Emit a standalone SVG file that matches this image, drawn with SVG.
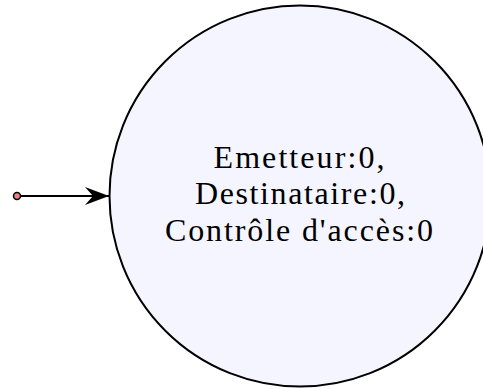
<svg xmlns="http://www.w3.org/2000/svg" width="483" height="389" viewBox="0 0 483 389">
<style>
.state{fill:#f5f5ff;stroke:#000;stroke-width:2}
.lbl{font-family:"Liberation Serif","DejaVu Serif",serif;font-size:32px;fill:#000;text-anchor:middle}
.edge{stroke:#000;stroke-width:2;fill:none}
</style>
<defs>
<marker id="arr" viewBox="0 0 24 18" refX="24" refY="9" markerWidth="24" markerHeight="18" markerUnits="userSpaceOnUse" orient="auto">
<path d="M0,0 L24,9 L0,18 L8,9 Z" fill="#000"/>
</marker>
</defs>
<g id="connectors">
<line class="edge" x1="20" y1="196" x2="109" y2="196" marker-end="url(#arr)"/>
<circle cx="17" cy="196" r="3.5" fill="#f08080" stroke="#000" stroke-width="1.5"/>
</g>
<g id="s0">
<circle class="state" cx="300" cy="196" r="190.5"/>
<text class="lbl" x="299" y="168" textLength="171" lengthAdjust="spacing">Emetteur:0,</text>
<text class="lbl" x="300" y="204" textLength="210" lengthAdjust="spacing">Destinataire:0,</text>
<text class="lbl" x="299" y="241" textLength="268" lengthAdjust="spacing">Contrôle d'accès:0</text>
</g>
</svg>
